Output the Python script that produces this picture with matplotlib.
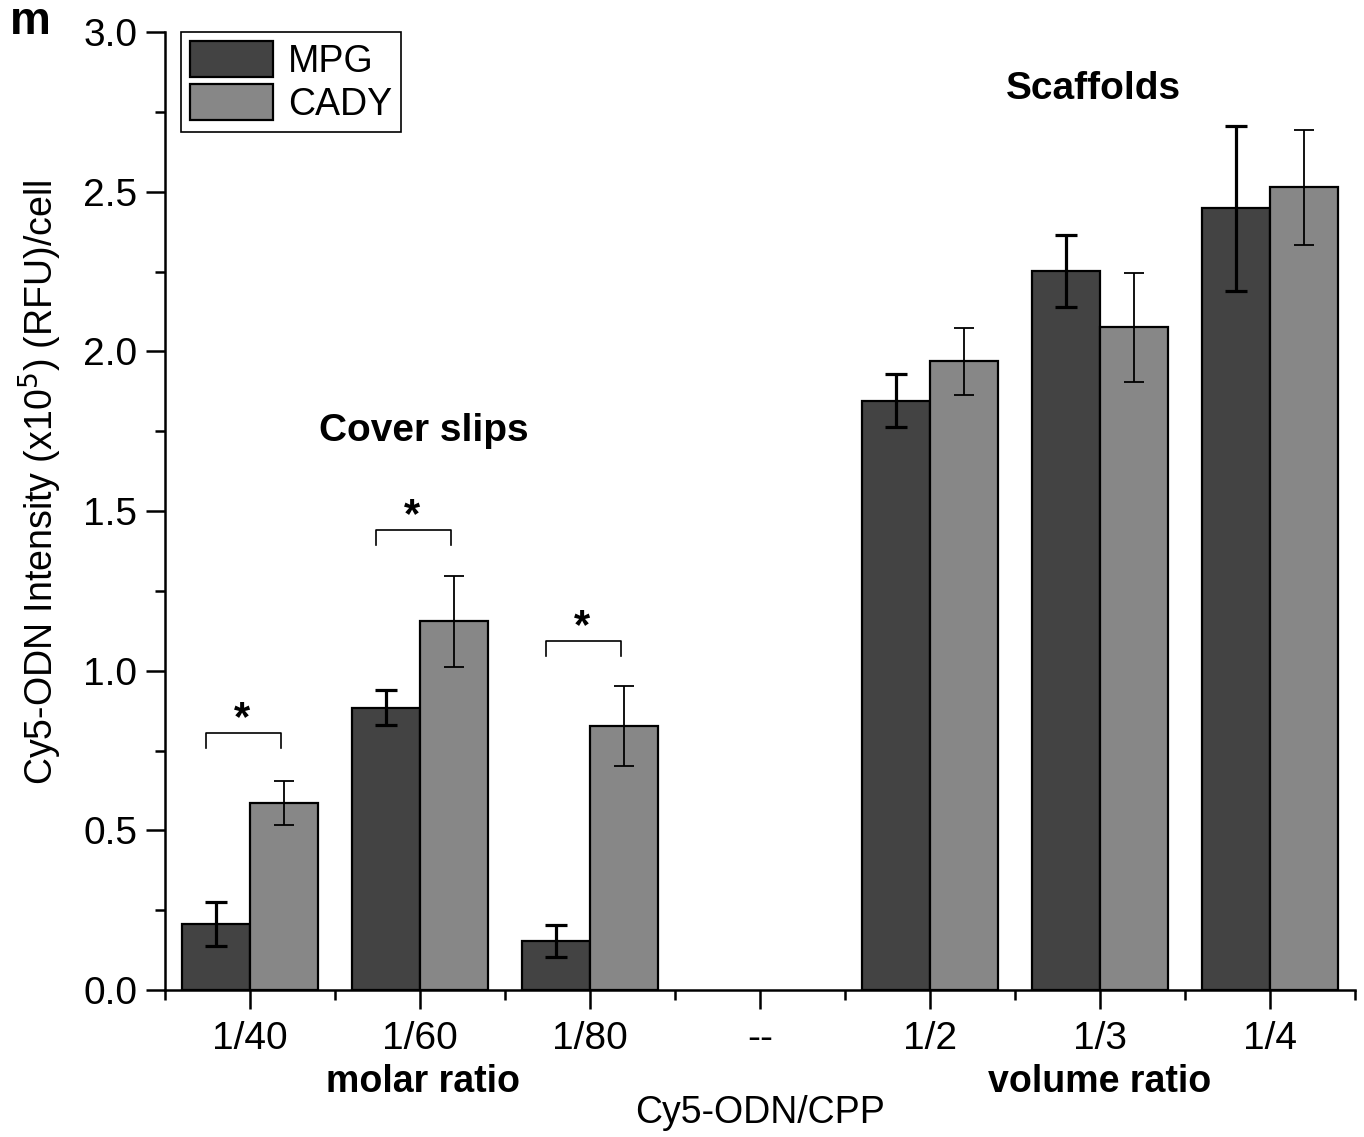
import matplotlib
matplotlib.use("Agg")
import matplotlib.pyplot as plt
import numpy as np

plt.rcParams['font.family'] = ['Liberation Sans', 'DejaVu Sans']

categories = ["1/40", "1/60", "1/80", "--", "1/2", "1/3", "1/4"]
mpg = [0.207, 0.884, 0.154, np.nan, 1.846, 2.251, 2.448]
mpg_err = [0.070, 0.055, 0.050, np.nan, 0.083, 0.113, 0.258]
cady = [0.586, 1.154, 0.828, np.nan, 1.969, 2.075, 2.514]
cady_err = [0.070, 0.143, 0.125, np.nan, 0.105, 0.171, 0.180]
series_names = ["MPG", "CADY"]
sig_groups = [0, 1, 2]
sig_heights = [0.806, 1.442, 1.094]

fig = plt.figure(figsize=(13.64, 11.37), dpi=100)
ax = fig.add_axes([165/1364, 1 - 990/1137, (1355-165)/1364, (990-32)/1137])

x = np.arange(len(categories))
w = 0.4
c1, c2 = "#434343", "#878787"
ax.bar(x - w/2, mpg, w, color=c1, edgecolor="black", linewidth=1.6, label=series_names[0], zorder=2)
ax.bar(x + w/2, cady, w, color=c2, edgecolor="black", linewidth=1.6, label=series_names[1], zorder=2)
ax.errorbar(x - w/2, mpg, yerr=mpg_err, fmt="none", ecolor="black", elinewidth=2.3, capsize=8, capthick=2.3, zorder=3)
ax.errorbar(x + w/2, cady, yerr=cady_err, fmt="none", ecolor="black", elinewidth=1.3, capsize=7, capthick=1.3, zorder=3)

for g, h in zip(sig_groups, sig_heights):
    x0, x1 = g - 0.26, g + 0.18
    ax.plot([x0, x0, x1, x1], [h - 0.047, h, h, h - 0.047], color="black", lw=1.2)
    ax.text(g - 0.05, h - 0.02, "*", ha="center", va="bottom", fontsize=30, fontweight="bold")

ax.text(1.02, 1.75, "Cover slips", ha="center", va="center", fontsize=28, fontweight="bold")
ax.text(4.96, 2.82, "Scaffolds", ha="center", va="center", fontsize=28, fontweight="bold")

ax.set_xlim(-0.5, 6.5)
ax.set_ylim(0, 3.0)
ax.set_xticks(x)
ax.set_xticklabels(categories)
ax.set_xticks(np.arange(-0.5, 6.6, 1.0), minor=True)
ax.set_yticks(np.arange(0, 3.01, 0.5))
ax.set_yticklabels([f"{v:.1f}" for v in np.arange(0, 3.01, 0.5)])
ax.set_yticks(np.arange(0.25, 3.0, 0.5), minor=True)
ax.tick_params(axis="both", which="major", labelsize=28, width=1.8, length=14, direction="out")
ax.tick_params(axis="both", which="minor", width=1.8, length=7, direction="out")
ax.tick_params(axis="x", which="major", pad=8)
ax.tick_params(axis="y", which="major", pad=6)
for s in ["top", "right"]:
    ax.spines[s].set_visible(False)
for s in ["left", "bottom"]:
    ax.spines[s].set_linewidth(1.8)

tr = ax.get_xaxis_transform()
ax.text(1.02, -0.096, "molar ratio", transform=tr, ha="center", va="center", fontsize=27, fontweight="bold")
ax.text(5.0, -0.096, "volume ratio", transform=tr, ha="center", va="center", fontsize=27, fontweight="bold")
ax.text(3.0, -0.1285, "Cy5-ODN/CPP", transform=tr, ha="center", va="center", fontsize=27)

fig.text(40/1364, 1 - 482/1137, "Cy5-ODN Intensity (x10$^5$) (RFU)/cell", rotation=90,
         ha="center", va="center", fontsize=27)
fig.text(30/1364, 1 - 22/1137, "m", ha="center", va="center", fontsize=33, fontweight="bold")

leg = ax.legend(loc="upper left", bbox_to_anchor=(16/1190, 1.0), borderaxespad=0, fontsize=27,
                handlelength=2.2, handleheight=1.1, labelspacing=0.1, handletextpad=0.4,
                borderpad=0.25, fancybox=False, framealpha=1)
leg.get_frame().set_edgecolor("black")
leg.get_frame().set_linewidth(1.2)

fig.savefig("out.png", dpi=100)
